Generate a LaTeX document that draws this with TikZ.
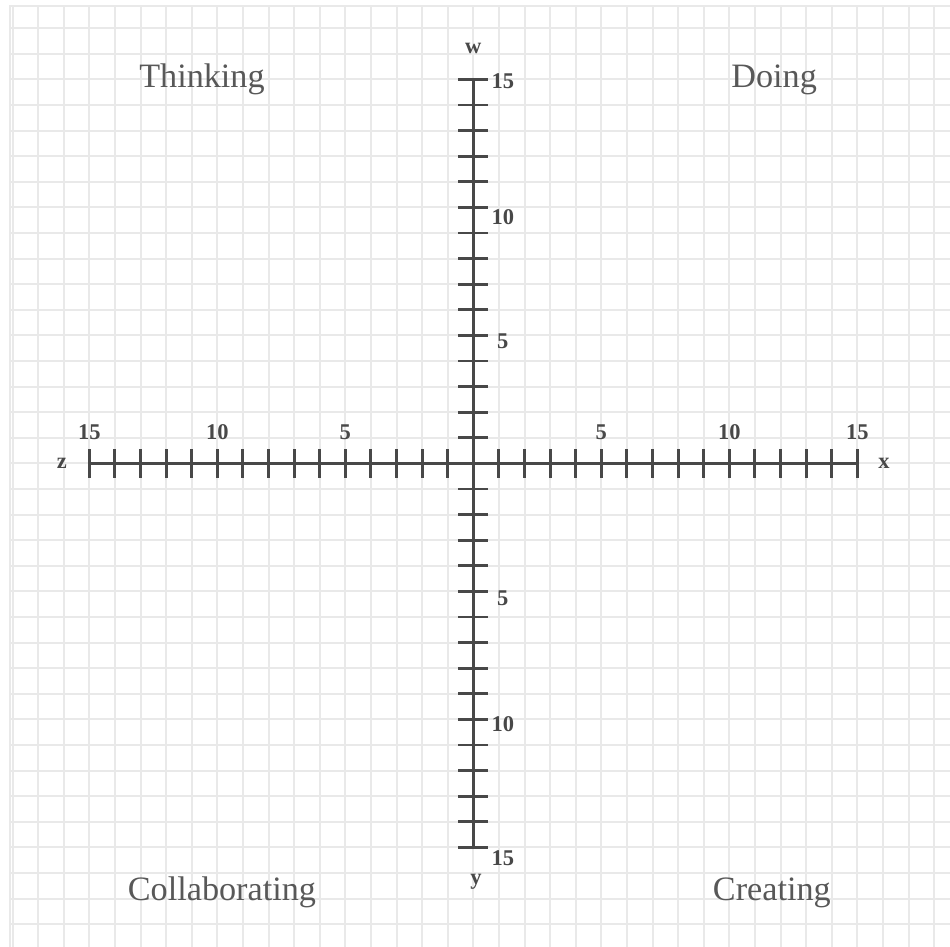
\documentclass[tikz,border=0pt]{standalone}
\usepackage{fontspec}
\setmainfont{Liberation Serif}
\usepackage{xcolor}
\usepackage{tikz}
\usetikzlibrary{positioning, calc}
\definecolor{gridgray}{RGB}{233,233,233}
\definecolor{axgray}{RGB}{72,72,72}
\definecolor{txtgray}{RGB}{88,88,88}

\begin{document}
\begin{tikzpicture}[x=0.5cm, y=0.5cm,
        every node/.style={inner sep=0pt},
        gridline/.style={draw=gridgray, line width=1.1pt},
        axline/.style={draw=axgray, line width=1.7pt},
        tk/.style={draw=axgray, line width=1.6pt},
        num/.style={text=axgray, font=\bfseries\fontsize{12.5}{14}\selectfont, anchor=base},
        axlbl/.style={text=axgray, font=\bfseries\fontsize{12.5}{14}\selectfont},
        quad/.style={text=txtgray, font=\fontsize{19}{22}\selectfont, anchor=base}]
      \useasboundingbox (-18.49,-18.89) rectangle (18.62,18.10);

      % graph paper
      \draw[gridline, step=1] (-18.1,-18.89) grid (18.62,17.86);
      \draw[gridline] (-18.1,-18.89) |- (18.62,17.86);

      % axes
      \coordinate (zend) at (-15,0);
      \coordinate (xend) at (15,0);
      \coordinate (wend) at (0,15);
      \coordinate (yend) at (0,-15);
      \draw[axline] (zend) -- (xend);
      \draw[axline] (wend) -- (yend);

      % ticks
      \foreach \i in {-15,...,-1,1,2,...,15} {
        \draw[tk] ($(\i,0) + (0,-0.57)$) -- ($(\i,0) + (0,0.57)$);
        \draw[tk] ($(0,\i) + (-0.59,0)$) -- ($(0,\i) + (0.59,0)$);
      }

      % numbers along z and x
      \foreach \i/\lbl in {-15/15, -10/10, -5/5, 5/5, 10/10, 15/15}
        \node[num] (h\i) at (\i,0.93) {\lbl};
      % numbers along w and y
      \foreach \i/\b/\lbl in {15/14.63/15, 10/9.33/10, 5/4.49/5, -5/-5.54/5, -10/-10.46/10, -15/-15.69/15}
        \node[num] (v\i) at (1.15,\b) {\lbl};

      % axis letters
      \node[axlbl] (w) at (0,16.2) {w};
      \node[axlbl] (x) at (16.04,0) {x};
      \node[axlbl] (y) at (0.1,-16.35) {y};
      \node[axlbl] (z) at (-16.07,0) {z};

      % quadrants
      \node[quad] (think) at (-10.6,14.69) {Thinking};
      \node[quad] (doing) at (11.75,14.69) {Doing};
      \node[quad] (collab) at (-9.82,-17.06) {Collaborating};
      \node[quad] (create) at (11.66,-17.06) {Creating};
    \end{tikzpicture}
\end{document}
